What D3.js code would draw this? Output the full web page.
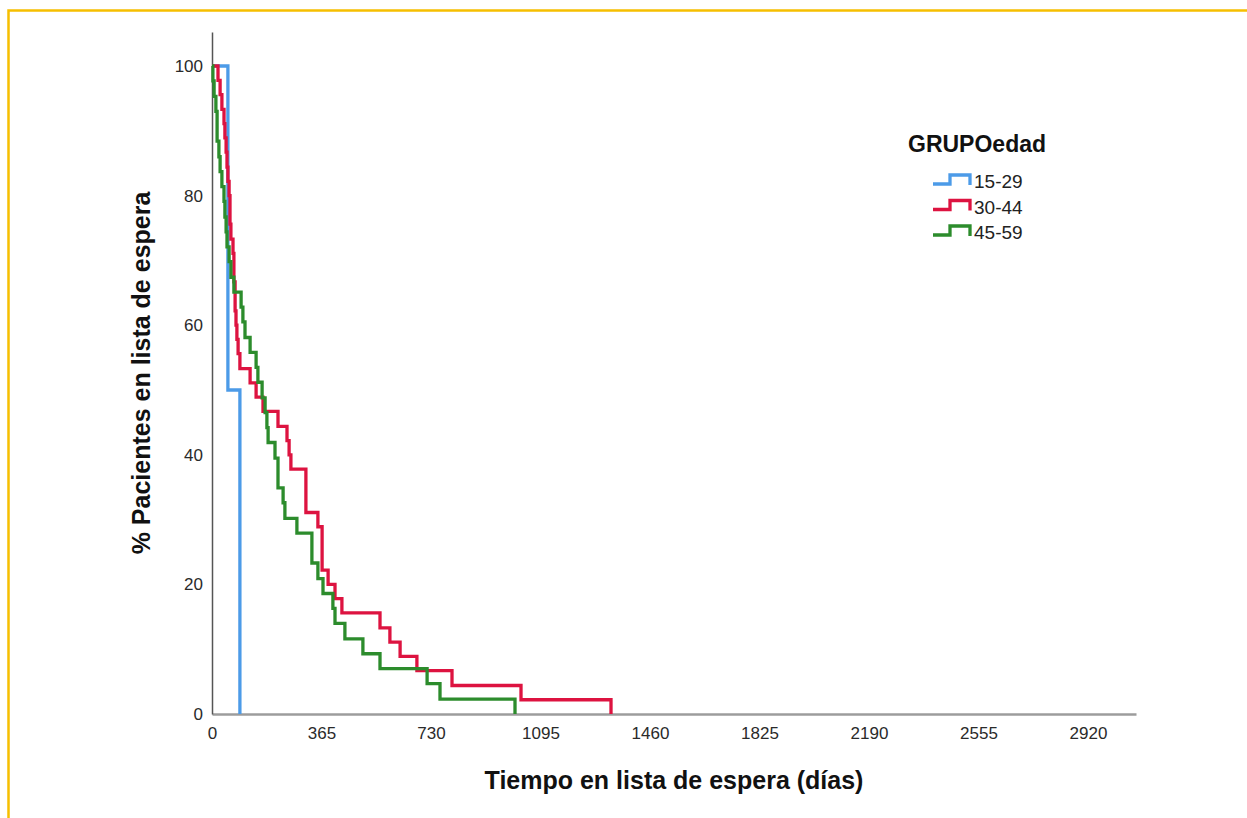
<!DOCTYPE html>
<html>
<head>
<meta charset="utf-8">
<script src="https://cdnjs.cloudflare.com/ajax/libs/d3/7.8.5/d3.min.js"></script>
<style>
  body { margin: 0; background: #fff; }
  text { font-family: "Liberation Sans", Arial, sans-serif; }
</style>
</head>
<body>
<svg class="chart"></svg>
<script>
// Grupos de edad y colores
var grupos = ["15-29", "30-44", "45-59"];
var colores = ["#4c9be8", "#dd1340", "#2c8c2c"];

// Días en que cae cada curva y % que sigue en lista después de la caída
var dias1529 = [0, 53, 93];
var pct1529 = [100, 50, 0];

var dias3044 = [0, 20, 27, 33, 40, 43, 47, 50, 53, 57, 60, 63, 70, 73, 77, 80, 83, 87, 93, 127,
    147, 170, 220, 250, 257, 263, 313, 353, 367, 387, 410, 433, 560, 593, 627, 683, 800, 1030, 1330];
var pct3044 = [100, 97.8, 95.6, 93.3, 91.1, 88.9, 86.7, 84.4, 82.2, 80.0, 75.6, 73.3, 71.1, 66.7, 62.2, 60.0, 57.8, 55.6, 53.3, 51.1,
    48.9, 46.7, 44.4, 42.2, 40.0, 37.8, 31.1, 28.9, 22.2, 20.0, 17.8, 15.6, 13.3, 11.1, 8.9, 6.7, 4.4, 2.2, 0];

var dias4559 = [0, 3, 7, 13, 17, 23, 27, 33, 40, 43, 47, 50, 57, 63, 73, 97, 103, 110, 127, 147,
    153, 167, 177, 183, 187, 210, 220, 237, 243, 283, 333, 353, 370, 403, 410, 443, 503, 560, 717, 760, 1010];
var pct4559 = [100, 97.7, 95.3, 93.0, 88.4, 86.0, 83.7, 81.4, 79.1, 76.7, 74.4, 72.1, 69.8, 67.4, 65.1, 62.8, 60.5, 58.1, 55.8, 53.5,
    51.2, 48.8, 46.5, 44.2, 41.9, 39.5, 34.9, 32.6, 30.2, 27.9, 23.3, 20.9, 18.6, 16.3, 14.0, 11.6, 9.3, 7.0, 4.7, 2.3, 0];

// Marcas de los ejes
var ticksX = [0, 365, 730, 1095, 1460, 1825, 2190, 2555, 2920];
var ticksY = [0, 20, 40, 60, 80, 100];

var width = 1247, height = 818;

var svg = d3.select(".chart")
    .attr("width", width)
    .attr("height", height);

// Marco amarillo (arriba e izquierda)
svg.append("path")
    .attr("d", "M8.5," + height + " V10.5 H" + width)
    .attr("fill", "none")
    .attr("stroke", "#f6bf00")
    .attr("stroke-width", 2.5);

// Escalas
var x = d3.scaleLinear().domain([0, 3080]).range([212, 1136]);
var y = d3.scaleLinear().domain([0, 105.25]).range([714, 32]);

// Eje X
var gx = svg.append("g")
    .attr("transform", "translate(0," + y(0) + ")")
    .call(d3.axisBottom(x).tickValues(ticksX).tickFormat(d3.format("d"))
        .tickSize(0).tickSizeOuter(0).tickPadding(13));
gx.select(".domain").attr("stroke", "#9c9c9c").attr("stroke-width", 2.5);
gx.selectAll("text").attr("font-size", 17).attr("font-family", "Liberation Sans, Arial, sans-serif").attr("fill", "#2a2a2a");

// Eje Y
var gy = svg.append("g")
    .attr("transform", "translate(" + x(0) + ",0)")
    .call(d3.axisLeft(y).tickValues(ticksY).tickFormat(d3.format("d"))
        .tickSize(0).tickSizeOuter(0).tickPadding(9));
gy.select(".domain").attr("stroke", "#555").attr("stroke-width", 1.5);
gy.selectAll("text").attr("font-size", 17).attr("font-family", "Liberation Sans, Arial, sans-serif").attr("fill", "#2a2a2a");

// Curvas de supervivencia (escalonadas)
var series = [
    d3.zip(dias1529, pct1529),
    d3.zip(dias3044, pct3044),
    d3.zip(dias4559, pct4559)
];

var linea = d3.line()
    .x(function(d) { return x(d[0]); })
    .y(function(d) { return y(d[1]); })
    .curve(d3.curveStepAfter);

svg.selectAll(".curva")
    .data(series)
  .enter().append("path")
    .attr("class", "curva")
    .attr("d", linea)
    .attr("fill", "none")
    .attr("stroke", function(d, i) { return colores[i]; })
    .attr("stroke-width", 3.3);

// Títulos de los ejes
svg.append("text")
    .attr("x", (x.range()[0] + x.range()[1]) / 2)
    .attr("y", 789)
    .attr("text-anchor", "middle")
    .attr("font-size", 25)
    .attr("font-weight", "bold")
    .attr("fill", "#111")
    .text("Tiempo en lista de espera (días)");

svg.append("text")
    .attr("transform", "translate(150," + (y.range()[0] + y.range()[1]) / 2 + ") rotate(-90)")
    .attr("text-anchor", "middle")
    .attr("font-size", 25)
    .attr("font-weight", "bold")
    .attr("fill", "#111")
    .text("% Pacientes en lista de espera");

// Leyenda
var leyenda = svg.append("g");

leyenda.append("text")
    .attr("x", 908)
    .attr("y", 152)
    .attr("font-size", 23)
    .attr("font-weight", "bold")
    .attr("fill", "#111")
    .text("GRUPOedad");

var item = leyenda.selectAll(".item")
    .data(grupos)
  .enter().append("g")
    .attr("class", "item")
    .attr("transform", function(d, i) { return "translate(0," + (181 + i * 25.5) + ")"; });

item.append("path")
    .attr("d", "M933,3 H950 V-6 H970 V4")
    .attr("fill", "none")
    .attr("stroke", function(d, i) { return colores[i]; })
    .attr("stroke-width", 3.3);

item.append("text")
    .attr("x", 974)
    .attr("y", 7)
    .attr("font-size", 19)
    .attr("fill", "#222")
    .text(function(d) { return d; });
</script>
</body>
</html>
